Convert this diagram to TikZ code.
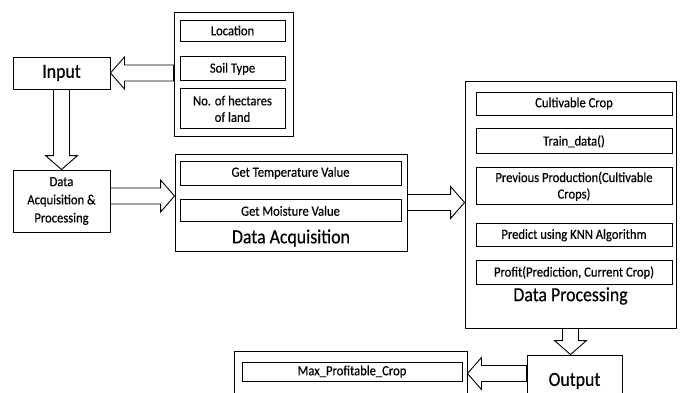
\documentclass[tikz,border=0pt]{standalone}
\usepackage{fontspec}
\setmainfont{Carlito}
\newfontfamily\itemfam{Carlito}[FakeStretch=0.9,FakeBold=0.4]
\newfontfamily\headfam{Carlito}[FakeStretch=0.89,FakeBold=0.4]
\usetikzlibrary{positioning,calc}
\newcommand{\boxfont}{\itemfam\fontsize{14}{16.5}\selectfont}
\newcommand{\headfont}{\headfam\fontsize{20}{22}\selectfont}
\tikzset{
  groupbox/.style={draw=black, line width=0.9pt, fill=white, inner sep=0pt},
  itembox/.style={draw=black, line width=0.9pt, fill=white, align=center,
                  font=\boxfont, inner sep=0pt},
  mainbox/.style={draw=black, line width=0.9pt, fill=white, align=center,
                  inner sep=1pt},
  fatarr/.style={draw=black, line width=0.9pt, fill=white, line join=miter,
    to path={let \p1=(\tikztostart), \p2=(\tikztotarget),
                 \p3=($(\p2)!14pt!(\p1)$) in
      ($(\p1)!8pt!90:(\p2)$) -- ($(\p3)!8pt!90:(\p2)$) -- ($(\p3)!16pt!90:(\p2)$)
      -- (\p2) -- ($(\p3)!16pt!-90:(\p2)$) -- ($(\p3)!8pt!-90:(\p2)$)
      -- ($(\p1)!8pt!-90:(\p2)$) -- cycle}}}

\begin{document}
\begin{tikzpicture}[x=1pt, y=-1pt]
  \useasboundingbox (0,0) rectangle (687,392);
  \clip (0,0) rectangle (687,392);
  % input side
  \node[mainbox, font=\headfont, minimum width=97pt, minimum height=32pt] (input) at (61.5,73) {Input};
  \node[groupbox, minimum width=119pt, minimum height=124pt] (attrs) at (233.5,74) {};
  \node[itembox, minimum width=105pt, minimum height=21pt] (loc) at (232.5,30.5) {Location};
  \node[itembox, minimum width=105pt, minimum height=24pt, below=15pt of loc] (soil) {Soil Type};
  \node[itembox, minimum width=105pt, minimum height=40pt, below=7pt of soil] (hect) {No. of hectares\\of land};
  \node[mainbox, font=\boxfont\linespread{1.1}\selectfont, minimum width=97pt, minimum height=62pt] (dap) at (61.5,201) {Data\\Acquisition \&\\Processing};
  % data acquisition
  \node[groupbox, minimum width=232pt, minimum height=97pt] (acq) at (291,202.5) {};
  \node[itembox, minimum width=221pt, minimum height=24pt] (temp) at (290.5,173) {Get Temperature Value};
  \node[itembox, minimum width=221pt, minimum height=22pt, below=14pt of temp] (moist) {Get Moisture Value};
  \node[font=\headfont, inner sep=0pt] (acqlbl) at (291,238) {Data Acquisition};
  % data processing
  \node[groupbox, minimum width=211pt, minimum height=247pt] (dp) at (570.5,204.5) {};
  \node[itembox, minimum width=196pt, minimum height=23pt] (cult) at (574,103.5) {Cultivable Crop};
  \node[itembox, minimum width=196pt, minimum height=25pt, below=13pt of cult] (train) {Train\_data()};
  \node[itembox, minimum width=196pt, minimum height=37pt, below=13pt of train] (prev) {Previous Production(Cultivable\\Crops)};
  \node[itembox, minimum width=196pt, minimum height=23pt, below=18pt of prev] (knn) {Predict using KNN Algorithm};
  \node[itembox, minimum width=196pt, minimum height=24pt, below=13pt of knn] (profit) {Profit(Prediction, Current Crop)};
  \node[font=\headfont, inner sep=0pt] (dplbl) at (570.5,296) {Data Processing};
  % output
  \node[mainbox, font=\headfont, minimum width=95pt, minimum height=52pt] (out) at (574.5,381) {Output};
  \node[groupbox, minimum width=233pt, minimum height=70pt] (maxc) at (350.5,386) {};
  \node[itembox, minimum width=220pt, minimum height=19pt] (mpc) at (352,371.5) {Max\_Profitable\_Crop};
  % hollow arrows
  \draw[fatarr] (input.east -| attrs.west) to (input.east);
  \draw[fatarr] (input.south) to (dap.north);
  \draw[fatarr] ([yshift=5pt]dap.east) to ([yshift=5pt]dap.east -| acq.west);
  \draw[fatarr] (acq.east) to (acq.east -| dp.west);
  \draw[fatarr] (dp.south) to (dp.south |- out.north);
  \draw[fatarr] ([yshift=-2pt]mpc.east -| out.west) to ([yshift=-2pt]mpc.east -| maxc.east);
\end{tikzpicture}
\end{document}
